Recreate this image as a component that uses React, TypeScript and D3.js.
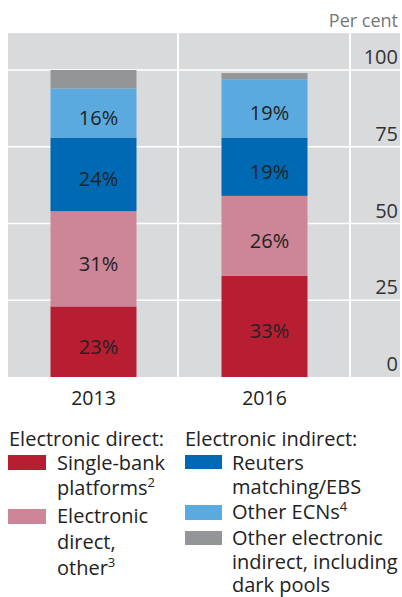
import React from "react";
import * as d3 from "d3";

const years = ["2013", "2016"];
const seriesNames = [
  "Single-bank platforms",
  "Electronic direct, other",
  "Reuters matching/EBS",
  "Other ECNs",
  "Other electronic indirect, including dark pools",
];
const colors = ["#b81e32", "#cd8598", "#0069b4", "#5aaadf", "#939598"];
const values2013 = [23, 31, 24, 16, 6];
const values2016 = [33, 26, 19, 19, 2];
const yTicks = [0, 25, 50, 75, 100];

const W = 402;
const H = 597;
const FONT = "'Open Sans', 'Noto Sans', sans-serif";

export default function App() {
  const left = 8;
  const right = 400;
  const y = d3.scaleLinear().domain([0, 100]).range([377, 70]);
  const top = y(112);
  const panelEdges = [left, 178, 350, right];
  const x = d3.scaleBand().domain(years).range([left, 350]).paddingInner(0).paddingOuter(0);
  const barW = 86;
  const data = [values2013, values2016];
  const stacks = data.map((vals) => {
    let acc = 0;
    return vals.map((v) => {
      const s = { y0: acc, y1: acc + v, v };
      acc += v;
      return s;
    });
  });

  return (
    <svg width={W} height={H} style={{ position: "absolute", left: 0, top: 0 }} fontFamily={FONT}>
      <text x={398} y={27} textAnchor="end" fontSize={18} fill="#777">Per cent</text>
      <rect x={left} y={top} width={right - left} height={y(0) - top} fill="#d9dadc" />
      {yTicks.filter((t) => t > 0).map((t) => (
        <line key={t} x1={left} x2={right} y1={y(t)} y2={y(t)} stroke="#fff" strokeWidth={1.5} />
      ))}
      {panelEdges.slice(1, 3).map((px) => (
        <line key={px} x1={px} x2={px} y1={top} y2={y(0)} stroke="#fff" strokeWidth={2} />
      ))}
      {yTicks.map((t) => (
        <text key={t} x={398} y={y(t) - 6} textAnchor="end" fontSize={20} fill="#333">{t}</text>
      ))}
      {years.map((yr, i) => {
        const cx = (x(yr) as number) + x.bandwidth() / 2;
        return (
          <g key={yr}>
            {stacks[i].map((s, j) => (
              <rect key={j} x={cx - barW / 2} y={y(s.y1)} width={barW} height={y(s.y0) - y(s.y1)} fill={colors[j]} />
            ))}
            {stacks[i].map((s, j) =>
              j < 4 ? (
                <text key={"t" + j} x={cx + 5} y={(y(s.y0) + y(s.y1)) / 2 + 12} textAnchor="middle" fontSize={20} fill="#222">
                  {s.v}%
                </text>
              ) : null
            )}
            <text x={cx} y={405} textAnchor="middle" fontSize={19.5} fill="#222">{yr}</text>
          </g>
        );
      })}
      {/* Legend */}
      <g fontSize={20} fill="#222">
        <text x={9} y={446}>Electronic direct:</text>
        <rect x={8} y={455} width={38} height={15} fill={colors[0]} />
        <text x={57} y={470}>Single-bank</text>
        <text x={57} y={495}>platforms<tspan dy={-8} fontSize={13}>2</tspan></text>
        <rect x={8} y={509} width={38} height={15} fill={colors[1]} />
        <text x={57} y={523}>Electronic</text>
        <text x={57} y={549}>direct,</text>
        <text x={57} y={575}>other<tspan dy={-8} fontSize={13}>3</tspan></text>

        <text x={185} y={446}>Electronic indirect:</text>
        <rect x={185} y={455} width={37} height={14} fill={colors[2]} />
        <text x={232} y={470}>Reuters</text>
        <text x={232} y={494}>matching/EBS</text>
        <rect x={185} y={505} width={37} height={15} fill={colors[3]} />
        <text x={232} y={519}>Other ECNs<tspan dy={-8} fontSize={13}>4</tspan></text>
        <rect x={185} y={531} width={37} height={14} fill={colors[4]} />
        <text x={232} y={545}>Other electronic</text>
        <text x={232} y={569}>indirect, including</text>
        <text x={232} y={592}>dark pools</text>
      </g>
    </svg>
  );
}
